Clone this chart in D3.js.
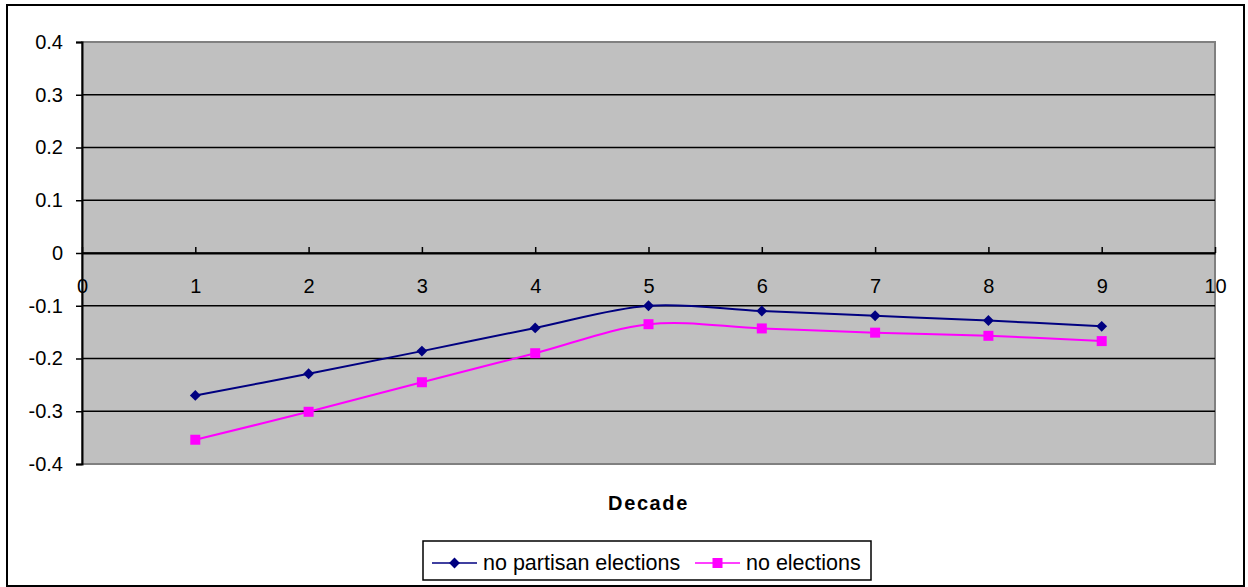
<!DOCTYPE html>
<html>
<head>
<meta charset="utf-8">
<script src="https://cdn.jsdelivr.net/npm/d3@7"></script>
<style>
  body { margin: 0; background: #fff; }
  text { font-family: "Liberation Sans", Arial, sans-serif; }
</style>
</head>
<body>
<div id="container"></div>
<script>
const decades = [1, 2, 3, 4, 5, 6, 7, 8, 9]
const noPartisan = [-0.270, -0.229, -0.186, -0.142, -0.100, -0.110, -0.119, -0.128, -0.139]
const noElections = [-0.354, -0.301, -0.245, -0.190, -0.135, -0.143, -0.151, -0.157, -0.167]
const yTicks = [0.4, 0.3, 0.2, 0.1, 0, -0.1, -0.2, -0.3, -0.4]
const xTicks = [0, 1, 2, 3, 4, 5, 6, 7, 8, 9, 10]

const series = [
    { name: "no partisan elections", values: noPartisan, color: "#000080", marker: "diamond" },
    { name: "no elections", values: noElections, color: "#FF00FF", marker: "square" }
]

const width = 1248, height = 587
const plot = { left: 82, top: 42, right: 1215, bottom: 464 }

const svg = d3.select('#container')
    .append('svg').attr('width', width).attr('height', height)

// outer chart border
svg.append("rect")
    .attr("x", 7).attr("y", 5)
    .attr("width", 1237).attr("height", 581)
    .attr("fill", "#fff").attr("stroke", "#000").attr("stroke-width", 2)

const xScale = d3.scaleLinear().domain([0, 10]).range([plot.left, plot.right])
const yScale = d3.scaleLinear().domain([-0.4, 0.4]).range([plot.bottom, plot.top])

// plot area
svg.append("rect")
    .attr("x", plot.left).attr("y", plot.top)
    .attr("width", plot.right - plot.left).attr("height", plot.bottom - plot.top)
    .attr("fill", "#c0c0c0").attr("stroke", "#808080").attr("stroke-width", 2)

// gridlines
svg.selectAll(".grid")
    .data(yTicks.filter(d => d !== 0.4 && d !== -0.4))
    .enter()
    .append("line")
    .attr("class", "grid")
    .attr("x1", plot.left).attr("x2", plot.right)
    .attr("y1", d => yScale(d)).attr("y2", d => yScale(d))
    .attr("stroke", "#000").attr("stroke-width", 1.5)

// y axis
const yAxis = d3.axisLeft(yScale).tickValues(yTicks).tickSize(6).tickPadding(13)
    .tickFormat(d => d === 0 ? "0" : d3.format(".1f")(d).replace("−", "-"))
const yg = svg.append("g").attr("transform", `translate(${plot.left},0)`).call(yAxis)
yg.select(".domain").attr("stroke", "#000").attr("stroke-width", 2)
yg.selectAll(".tick line").attr("stroke", "#000").attr("stroke-width", 1.5)
yg.selectAll("text").attr("font-size", 20).attr("fill", "#000")
    .attr("font-family", "Liberation Sans, Arial, sans-serif")

// x axis at y = 0, ticks pointing up, labels below
const xAxis = d3.axisBottom(xScale).tickValues(xTicks).tickSizeInner(-6).tickSizeOuter(0).tickPadding(26)
const xg = svg.append("g").attr("transform", `translate(0,${yScale(0)})`).call(xAxis)
xg.select(".domain").attr("stroke", "#000").attr("stroke-width", 2)
xg.selectAll(".tick line").attr("stroke", "#000").attr("stroke-width", 1.5)
xg.selectAll("text").attr("font-size", 20).attr("fill", "#000")
    .attr("font-family", "Liberation Sans, Arial, sans-serif")

// lines
const line = d3.line()
    .x((d, i) => xScale(decades[i]))
    .y(d => yScale(d))
    .curve(d3.curveCardinal.tension(0))

series.forEach(s => {
    svg.append("path")
        .attr("d", line(s.values))
        .attr("fill", "none")
        .attr("stroke", s.color)
        .attr("stroke-width", 2)
})

const drawMarker = (g, type, x, y, color) => {
    if (type === "diamond") {
        g.append("path")
            .attr("d", d3.symbol().type(d3.symbolDiamond2).size(75)())
            .attr("transform", `translate(${x},${y})`)
            .attr("fill", color)
    } else {
        g.append("rect")
            .attr("x", x - 5).attr("y", y - 5)
            .attr("width", 10).attr("height", 10)
            .attr("fill", color)
    }
}

series.forEach(s => {
    const g = svg.append("g")
    s.values.forEach((v, i) => drawMarker(g, s.marker, xScale(decades[i]), yScale(v), s.color))
})

// x axis title
svg.append("text")
    .attr("x", (plot.left + plot.right) / 2).attr("y", 510)
    .attr("text-anchor", "middle")
    .attr("font-size", 20).attr("font-weight", "bold")
    .attr("letter-spacing", 1.6)
    .text("Decade")

// legend
svg.append("rect")
    .attr("x", 423).attr("y", 541)
    .attr("width", 448).attr("height", 39)
    .attr("fill", "#fff").attr("stroke", "#000").attr("stroke-width", 1.5)

const legendItems = [{ s: series[0], x: 432 }, { s: series[1], x: 695 }]
legendItems.forEach(({ s, x }) => {
    const g = svg.append("g")
    g.append("line")
        .attr("x1", x).attr("x2", x + 45)
        .attr("y1", 563).attr("y2", 563)
        .attr("stroke", s.color).attr("stroke-width", 1.5)
    drawMarker(g, s.marker, x + 22.5, 563, s.color)
    g.append("text")
        .attr("x", x + 51).attr("y", 570)
        .attr("font-size", 21.5)
        .text(s.name)
})
</script>
</body>
</html>
